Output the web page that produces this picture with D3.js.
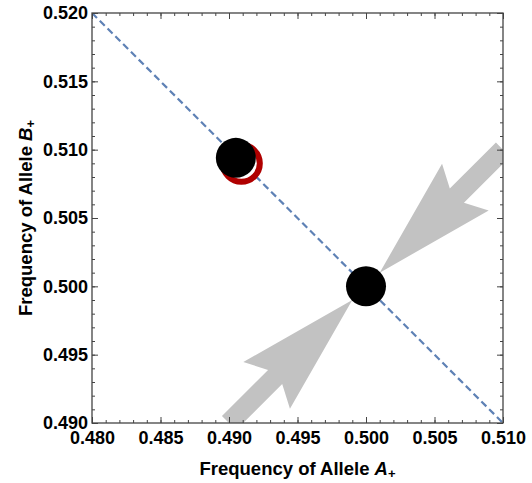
<!DOCTYPE html>
<html>
<head>
<meta charset="utf-8">
<script src="https://cdn.jsdelivr.net/npm/d3@7"></script>
<style>
  body { margin: 0; background: #fff; }
  svg { font-family: "Liberation Sans", Arial, sans-serif; }
  .tick text { font-weight: bold; font-size: 18px; fill: #000; }
  .axis path, .axis line { stroke: #444; }
</style>
</head>
<body>
<script>
const w = 532;
const h = 483;
const margin = {left: 92, right: 29, top: 13, bottom: 60};

const xDomain = [0.480, 0.510];
const yDomain = [0.490, 0.520];
const majorTicks = [0.480, 0.485, 0.490, 0.495, 0.500, 0.505, 0.510];
const yMajorTicks = [0.490, 0.495, 0.500, 0.505, 0.510, 0.515, 0.520];
const minorStep = 0.001;

// line x + y = 1
const lineX = [0.480, 0.510];
const lineY = [0.520, 0.490];

// points
const blackPoints = [[0.5000, 0.5000], [0.4905, 0.5094]];
const ringPoints = [[0.4909, 0.5090]];

// flow arrows: tails and tips
const arrowsFrom = [[0.510, 0.510], [0.490, 0.490]];
const arrowsTo = [[0.501, 0.501], [0.499, 0.499]];

const xScale = d3.scaleLinear().domain(xDomain).range([margin.left, w - margin.right]);
const yScale = d3.scaleLinear().domain(yDomain).range([h - margin.bottom, margin.top]);

const svg = d3.select("body")
              .append("svg")
              .attr("width", w)
              .attr("height", h)

svg.append("clipPath")
   .attr("id", "plotclip")
   .append("rect")
   .attr("x", margin.left)
   .attr("y", margin.top)
   .attr("width", w - margin.left - margin.right)
   .attr("height", h - margin.top - margin.bottom)

const plot = svg.append("g").attr("clip-path", "url(#plotclip)")

// dashed line
plot.append("line")
    .attr("x1", xScale(lineX[0]))
    .attr("y1", yScale(lineY[0]))
    .attr("x2", xScale(lineX[1]))
    .attr("y2", yScale(lineY[1]))
    .attr("stroke", "#5E81B5")
    .attr("stroke-width", 2.2)
    .attr("stroke-dasharray", "7,4")

// arrows
function arrowPath(from, to) {
  const x0 = xScale(from[0]), y0 = yScale(from[1]);
  const x1 = xScale(to[0]), y1 = yScale(to[1]);
  const len = Math.hypot(x1 - x0, y1 - y0);
  const ux = (x0 - x1) / len, uy = (y0 - y1) / len; // from tip backwards
  const vx = -uy, vy = ux;
  const headLen = 121, headHalf = 33, notch = 109, shaftHalf = 10;
  const pt = (a, b) => [x1 + ux * a + vx * b, y1 + uy * a + vy * b];
  const pts = [
    pt(0, 0), pt(headLen, headHalf), pt(notch, shaftHalf), pt(len, shaftHalf),
    pt(len, -shaftHalf), pt(notch, -shaftHalf), pt(headLen, -headHalf)
  ];
  return "M" + pts.map(p => p.join(",")).join("L") + "Z";
}

plot.selectAll(".arrow")
    .data(arrowsFrom)
    .enter()
    .append("path")
    .attr("class", "arrow")
    .attr("d", (d, i) => arrowPath(d, arrowsTo[i]))
    .attr("fill", "#c2c2c2")

plot.selectAll(".ring")
    .data(ringPoints)
    .enter()
    .append("circle")
    .attr("class", "ring")
    .attr("cx", d => xScale(d[0]))
    .attr("cy", d => yScale(d[1]))
    .attr("r", 18.5)
    .attr("fill", "#fff")
    .attr("stroke", "#b00000")
    .attr("stroke-width", 6)

plot.selectAll(".dot")
    .data(blackPoints)
    .enter()
    .append("circle")
    .attr("class", "dot")
    .attr("cx", d => xScale(d[0]))
    .attr("cy", d => yScale(d[1]))
    .attr("r", 20)
    .attr("fill", "#000")

// axes
const minorX = d3.range(0, 31).map(i => xDomain[0] + i * minorStep);
const minorY = d3.range(0, 31).map(i => yDomain[0] + i * minorStep);
const fmt = d3.format(".3f");

function addAxis(axisFn, scale, ticks, size, tr, labels) {
  const ax = axisFn(scale).tickValues(ticks).tickSizeInner(size).tickSizeOuter(0)
  ax.tickFormat(labels ? fmt : "")
  return svg.append("g").attr("class", "axis").attr("transform", tr).call(ax)
}

const bottomT = "translate(0," + (h - margin.bottom) + ")";
const topT = "translate(0," + margin.top + ")";
const leftT = "translate(" + margin.left + ",0)";
const rightT = "translate(" + (w - margin.right) + ",0)";

addAxis(d3.axisBottom, xScale, minorX, -3, bottomT, false)
const xb = addAxis(d3.axisBottom, xScale, majorTicks, -6, bottomT, true)
xb.selectAll(".tick text").attr("y", 8)
addAxis(d3.axisTop, xScale, minorX, -3, topT, false)
addAxis(d3.axisTop, xScale, majorTicks, -6, topT, false)

addAxis(d3.axisLeft, yScale, minorY, -3, leftT, false)
const yl = addAxis(d3.axisLeft, yScale, yMajorTicks, -6, leftT, true)
yl.selectAll(".tick text").attr("x", -4)
addAxis(d3.axisRight, yScale, minorY, -3, rightT, false)
addAxis(d3.axisRight, yScale, yMajorTicks, -6, rightT, false)

svg.selectAll(".axis .domain").remove()

svg.append("rect")
   .attr("x", margin.left)
   .attr("y", margin.top)
   .attr("width", w - margin.left - margin.right)
   .attr("height", h - margin.top - margin.bottom)
   .attr("fill", "none")
   .attr("stroke", "#444")
   .attr("stroke-width", 1.3)

// titles
const xt = svg.append("text")
   .attr("x", (margin.left + w - margin.right) / 2)
   .attr("y", 475)
   .attr("text-anchor", "middle")
   .style("font-size", "18.5px")
   .style("font-weight", "bold")
xt.append("tspan").text("Frequency of Allele ")
xt.append("tspan").style("font-style", "italic").text("A")
xt.append("tspan").attr("dy", 3).style("font-size", "13px").text("+")

const yt = svg.append("text")
   .attr("transform", "translate(32," + ((margin.top + h - margin.bottom) / 2) + ") rotate(-90)")
   .attr("text-anchor", "middle")
   .style("font-size", "18.5px")
   .style("font-weight", "bold")
yt.append("tspan").text("Frequency of Allele ")
yt.append("tspan").style("font-style", "italic").text("B")
yt.append("tspan").attr("dy", 3).style("font-size", "13px").text("+")
</script>
</body>
</html>
